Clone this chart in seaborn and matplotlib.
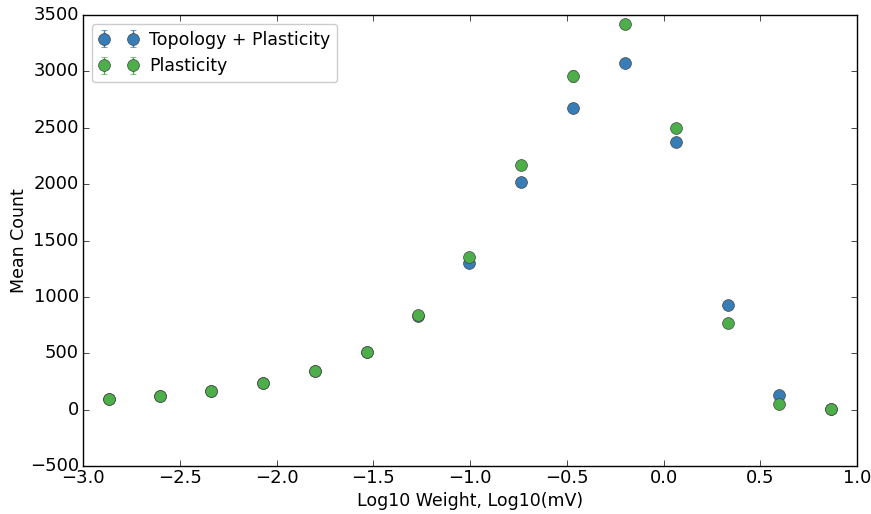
import matplotlib
matplotlib.use("Agg")
import matplotlib.pyplot as plt
import seaborn as sns
import numpy as np

x_vals = [-2.866, -2.602, -2.339, -2.070, -1.801, -1.532, -1.269, -1.005,
          -0.736, -0.468, -0.199, 0.064, 0.333, 0.597, 0.866]
topo_mean = [94, 120, 165, 236, 342, 511, 830, 1300, 2018, 2674, 3074, 2373, 931, 129, 5]
topo_err = [5, 6, 8, 10, 12, 15, 18, 25, 45, 45, 20, 20, 15, 8, 2]
plast_mean = [94, 120, 165, 236, 342, 511, 839, 1350, 2169, 2958, 3420, 2497, 768, 50, 5]
plast_err = [5, 6, 8, 10, 12, 15, 18, 20, 30, 50, 40, 20, 15, 5, 2]
labels = ["Topology + Plasticity", "Plasticity"]

plt.style.use("classic")
plt.rcParams["font.family"] = ["DejaVu Sans"]
pal = sns.color_palette("Set1")
colors = [pal[1], pal[2]]

fig = plt.figure(figsize=(8.71, 5.14), dpi=100, facecolor="white")
ax = fig.add_axes([83/871, 1 - 466/514, (857-83)/871, (466-15)/514])

for mean, err, col, lab in [(topo_mean, topo_err, colors[0], labels[0]),
                            (plast_mean, plast_err, colors[1], labels[1])]:
    ax.errorbar(x_vals, mean, yerr=err, fmt="o", color=col, ecolor=col,
                markersize=8.5, markeredgecolor="#444444", markeredgewidth=0.5,
                capsize=2, elinewidth=1, label=lab)

ax.set_xlim(-3.0, 1.0)
ax.set_ylim(-500, 3500)
ax.tick_params(axis="x", labelsize=13, pad=2)
ax.tick_params(axis="y", labelsize=13, pad=3)
ax.set_xlabel("Log10 Weight, Log10(mV)", fontsize=12.5, labelpad=4)
ax.set_ylabel("Mean Count", fontsize=12.5, labelpad=1)
leg = ax.legend(loc="upper left", numpoints=2, fontsize=12.5, fancybox=True,
                framealpha=1, handlelength=2.3, handletextpad=0.6,
                borderaxespad=0.5)
leg.get_frame().set_edgecolor("#cccccc")
fig.savefig("out.png", dpi=100, facecolor="white")
